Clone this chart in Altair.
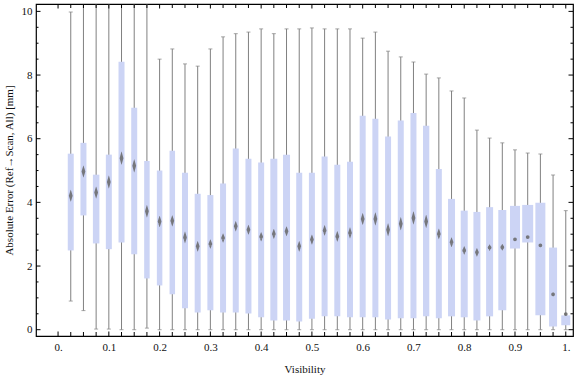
import altair as alt
import pandas as pd
import numpy as np

# ---- data ----
vis = [round(0.025 * k, 3) for k in range(1, 41)]
whisker_lo = [0.90, 0.60, 0.02, 0.02, 0.00, 0.00, 0.05, 0.00, 0.00, 0.00,
              0.00, 0.00, 0.00, 0.00, 0.00, 0.00, 0.00, 0.00, 0.00, 0.00,
              0.00, 0.00, 0.00, 0.00, 0.00, 0.00, 0.00, 0.00, 0.00, 0.00,
              0.00, 0.00, 0.00, 0.00, 0.00, 0.00, 0.00, 0.00, 0.00, 0.00]
q1 = [2.49, 3.59, 2.71, 2.53, 2.74, 2.37, 1.61, 1.39, 1.11, 0.67,
      0.54, 0.61, 0.54, 0.54, 0.51, 0.39, 0.29, 0.29, 0.26, 0.34,
      0.42, 0.42, 0.39, 0.39, 0.39, 0.32, 0.36, 0.36, 0.42, 0.36,
      0.42, 0.39, 0.29, 0.42, 0.61, 2.55, 2.74, 0.45, 0.10, 0.14]
median = [4.21, 4.97, 4.31, 4.64, 5.39, 5.15, 3.72, 3.40, 3.42, 2.90,
          2.62, 2.69, 2.88, 3.25, 3.14, 2.92, 3.01, 3.09, 2.62, 2.83,
          3.12, 2.93, 3.04, 3.48, 3.48, 3.14, 3.33, 3.51, 3.40, 3.01,
          2.75, 2.49, 2.43, 2.58, 2.59, 2.84, 2.91, 2.65, 1.11, 0.49]
q3 = [5.53, 5.87, 4.87, 5.50, 8.42, 6.97, 5.30, 5.00, 5.62, 4.93,
      4.27, 4.23, 4.59, 5.69, 5.37, 5.25, 5.37, 5.50, 4.93, 4.93,
      5.44, 5.18, 5.28, 6.72, 6.63, 6.07, 6.57, 6.81, 6.41, 5.05,
      4.11, 3.74, 3.70, 3.85, 3.76, 3.89, 3.92, 3.99, 2.58, 0.45]
whisker_hi = [9.98, 11.0, 11.0, 11.0, 11.0, 11.0, 11.0, 8.50, 8.82, 8.35,
              8.28, 8.82, 9.20, 9.30, 9.35, 9.45, 9.30, 9.45, 9.45, 9.48,
              9.45, 9.45, 9.45, 9.16, 9.35, 8.75, 8.57, 8.41, 8.03, 7.91,
              7.50, 7.28, 6.27, 6.02, 5.87, 5.65, 5.55, 5.52, 4.86, 3.74]
box_width = [6, 6, 6.5, 6, 6, 6, 5.5, 5.5, 5.5, 6,
             6, 6, 6, 6, 6, 6, 7, 7, 6, 6,
             6, 6, 6, 6, 6, 6, 6, 6, 6.3, 6,
             7, 7, 7, 7, 8, 10, 11, 10, 8, 9]
notch = [0.18, 0.18, 0.18, 0.20, 0.20, 0.20, 0.19, 0.17, 0.17, 0.18,
         0.16, 0.14, 0.14, 0.16, 0.15, 0.14, 0.15, 0.15, 0.16, 0.15,
         0.16, 0.16, 0.17, 0.18, 0.20, 0.20, 0.20, 0.20, 0.20, 0.16,
         0.15, 0.13, 0.13, 0.10, 0.10, 0.05, 0.05, 0.06, 0.07, 0.05]

x_major = [round(0.1 * k, 1) for k in range(0, 11)]
x_minor = [round(0.025 * k, 3) for k in range(0, 41) if k % 4 != 0]
y_major = [0, 2, 4, 6, 8, 10]
y_minor = [v * 0.5 for v in range(0, 21) if v % 4 != 0]

W, H = 537, 332
XDOM = [-0.0336, 1.0044]
YDOM = [-0.198, 10.232]
FONT = "Liberation Serif"
BOX = "#ccd4f5"
WHISK = "#808080"
MED = "#666666"

df = pd.DataFrame({"vis": vis, "lo": whisker_lo, "q1": q1, "med": median,
                   "q3": q3, "hi": whisker_hi, "w": box_width})

rows = []
for i, (v, m, n) in enumerate(zip(vis, median, notch)):
    rows.append({"id": i, "ord": 0, "vis": v, "y": m - n, "s": 0.3})
    rows.append({"id": i, "ord": 1, "vis": v, "y": m, "s": 3.8})
    rows.append({"id": i, "ord": 2, "vis": v, "y": m + n, "s": 0.3})
dia = pd.DataFrame(rows)

xs = alt.Scale(domain=XDOM, nice=False, zero=False)
ys = alt.Scale(domain=YDOM, nice=False, zero=False)

XAX = alt.Axis(values=x_major, title="Visibility",
               labelExpr="datum.value == 0 ? '0.' : (datum.value == 1 ? '1.' : format(datum.value, '.1f'))",
               labelPadding=5, titlePadding=11)
YAX = alt.Axis(values=y_major, format="d",
               title="Absolute Error (Ref\u2192Scan, All) [mm]",
               labelPadding=4, titlePadding=7)

def XN(f):
    return alt.X(f, scale=xs, axis=XAX)

def YN(f):
    return alt.Y(f, scale=ys, axis=YAX)

base = alt.Chart(df)

whisk = base.mark_rule(color=WHISK, strokeWidth=1, clip=True).encode(
    x=XN("vis:Q"), y=YN("lo:Q"), y2="hi:Q")
cap_lo = base.mark_tick(color=WHISK, orient="horizontal", size=4, thickness=1, clip=True).encode(
    x=XN("vis:Q"), y=YN("lo:Q"))
cap_hi = base.mark_tick(color=WHISK, orient="horizontal", size=4, thickness=1, clip=True).encode(
    x=XN("vis:Q"), y=YN("hi:Q"))
boxes = base.mark_bar(color=BOX, clip=True).encode(
    x=XN("vis:Q"), y=YN("q1:Q"), y2="q3:Q",
    size=alt.Size("w:Q", scale=None, legend=None))
diamonds = alt.Chart(dia).mark_trail(color=MED, opacity=0.85, clip=True).encode(
    x=XN("vis:Q"), y=YN("y:Q"),
    size=alt.Size("s:Q", scale=None, legend=None),
    detail="id:N", order="ord:Q")

# frame ticks pointing inward
def xticks(vals, length):
    d = pd.DataFrame({"t": vals})
    bot = alt.Chart(d).mark_rule(color="black", strokeWidth=1).encode(
        x=XN("t:Q"), y=alt.value(H), y2=alt.value(H - length))
    top = alt.Chart(d).mark_rule(color="black", strokeWidth=1).encode(
        x=XN("t:Q"), y=alt.value(0), y2=alt.value(length))
    return [bot, top]

def yticks(vals, length):
    d = pd.DataFrame({"t": vals})
    left = alt.Chart(d).mark_rule(color="black", strokeWidth=1).encode(
        y=YN("t:Q"), x=alt.value(0), x2=alt.value(length))
    right = alt.Chart(d).mark_rule(color="black", strokeWidth=1).encode(
        y=YN("t:Q"), x=alt.value(W), x2=alt.value(W - length))
    return [left, right]

tick_layers = xticks(x_major, 4.5) + xticks(x_minor, 4) + yticks(y_major, 4.5) + yticks(y_minor, 2.5)

chart = alt.layer(whisk, cap_lo, cap_hi, boxes, diamonds, *tick_layers).properties(
    width=W, height=H,
    background="white",
    autosize=alt.AutoSizeParams(type="none"),
    padding={"left": 36, "top": 4, "right": 3, "bottom": 41},
).configure_view(stroke="black", strokeWidth=1.2).configure_axis(
    ticks=False, domain=False, grid=False,
    labelFont=FONT, labelFontSize=11, labelColor="#111",
    titleFont=FONT, titleFontSize=11, titleFontWeight="normal", titleColor="#111",
)

chart.save("out.html", embed_options={"renderer": "svg", "actions": False})
